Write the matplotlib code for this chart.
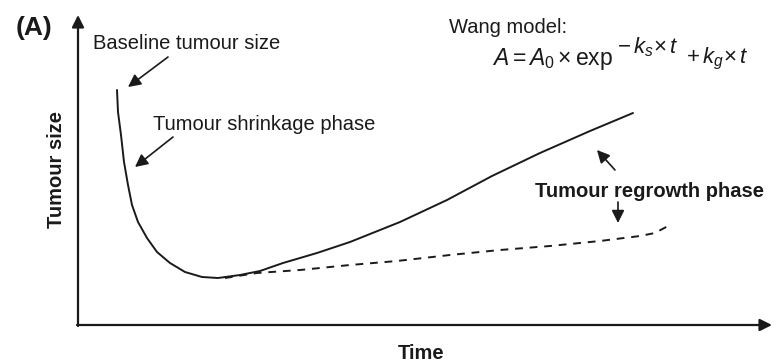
import numpy as np
import matplotlib
matplotlib.use("Agg")
import matplotlib.pyplot as plt

plt.rcParams["font.family"] = ["Liberation Sans", "DejaVu Sans"]
plt.rcParams["mathtext.fontset"] = "custom"
plt.rcParams["mathtext.rm"] = "Liberation Sans"
plt.rcParams["mathtext.it"] = "Liberation Sans:italic"
plt.rcParams["mathtext.bf"] = "Liberation Sans:bold"

# ---- data (arbitrary time / size units) ----
time_full = [39, 40, 43, 46, 50, 54, 60, 69, 79, 92, 107, 124, 140, 162,
             182, 205, 239, 272, 302, 322, 369, 414, 462, 512, 555]
size_full = [235, 213, 190, 163, 140, 120, 103, 87, 73, 62, 53, 48, 47, 50,
             54, 62, 72, 83, 95, 103, 125, 149, 172, 194, 212]

time_slow = [147, 179, 222, 272, 319, 372, 422, 472, 522, 562, 577, 590]
size_slow = [47, 52, 55, 60, 64, 70, 75, 79, 84, 89, 92, 99]

ink = "#1a1a1a"

fig = plt.figure(figsize=(7.83, 3.64), dpi=100)
ax = fig.add_axes([0, 0, 1, 1])
ax.set_xlim(-78, 705)
ax.set_ylim(-39, 325)
ax.axis("off")

# curves
ax.plot(time_full, size_full, color=ink, lw=1.4, solid_capstyle="round",
        solid_joinstyle="round")
ax.plot(time_slow, size_slow, color=ink, lw=1.4, dashes=(4, 3.5))

# axes with arrow heads
axis_arrow = dict(arrowstyle="-|>", color=ink, lw=1.6, mutation_scale=18,
                  shrinkA=0, shrinkB=0)
ax.annotate("", xy=(0, 310), xytext=(0, -1), arrowprops=axis_arrow)
ax.annotate("", xy=(694, 0), xytext=(-1, 0), arrowprops=axis_arrow)

# pointer arrows
ptr = dict(arrowstyle="-|>", color=ink, lw=1.2, mutation_scale=19,
           shrinkA=0, shrinkB=0)
ax.annotate("", xy=(50, 238), xytext=(90, 268), arrowprops=ptr)
ax.annotate("", xy=(57, 158), xytext=(95, 188), arrowprops=ptr)
ax.annotate("", xy=(519, 175), xytext=(537, 155), arrowprops=ptr)
ax.annotate("", xy=(540, 102), xytext=(540, 123), arrowprops=ptr)

# labels
ax.text(-44, 290, "(A)", fontsize=19, fontweight="bold", ha="center",
        va="baseline", color=ink)
ax.text(15, 276, "Baseline tumour size", fontsize=14.5, ha="left",
        va="baseline", color=ink)
ax.text(75, 195, "Tumour shrinkage phase", fontsize=14.5, ha="left",
        va="baseline", color=ink)
ax.text(371, 292, "Wang model:", fontsize=14.5, ha="left",
        va="baseline", color=ink)
ax.text(414, 260, r"$A = A_{\mathit{0}} \times \mathrm{exp}$", fontsize=16.5,
        ha="left", va="baseline", color=ink)
ax.text(539, 272, r"$-\,k_s\!\times t$", fontsize=16,
        ha="left", va="baseline", color=ink)
ax.text(608, 262, r"$+\,k_g\!\times t$", fontsize=16,
        ha="left", va="baseline", color=ink)
ax.text(457, 128, "Tumour regrowth phase", fontsize=14.5, fontweight="bold",
        ha="left", va="baseline", color=ink)
ax.text(343, -34, "Time", fontsize=14.5, fontweight="bold", ha="center",
        va="baseline", color=ink)
ax.text(-22, 156, "Tumour size", fontsize=14.5, fontweight="bold",
        rotation=90, ha="center", va="center", color=ink)

fig.savefig("out.png", dpi=100)
